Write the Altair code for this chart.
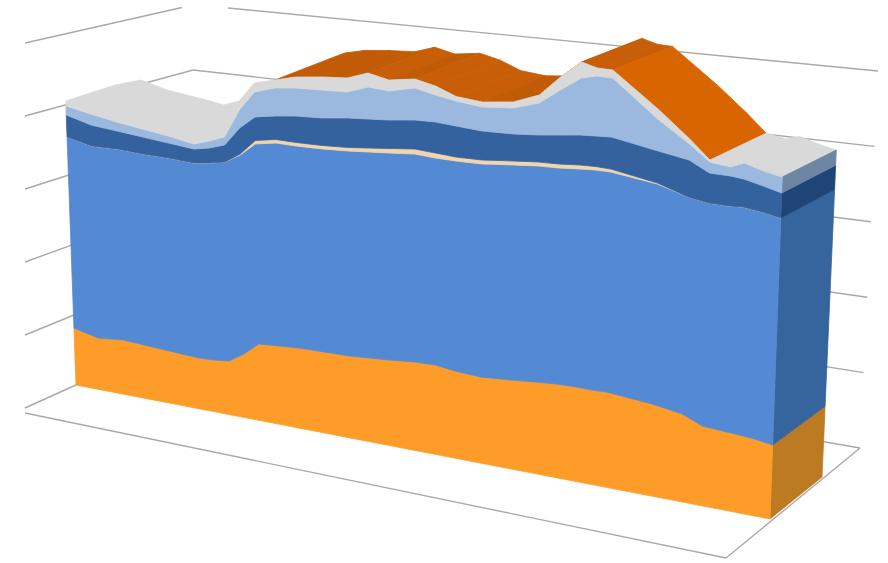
import altair as alt
import pandas as pd

# Time along the front of the block, and the cumulative level of each stacked series.
days = [0, 24, 49, 74, 99, 124, 139, 154, 169, 184, 204, 224, 249, 274, 294, 314, 339,
        359, 379, 404, 434, 459, 479, 499, 514, 529, 574, 604, 624, 644, 657, 676, 694]
orange_top = [57, 51.6, 54.5, 53.3, 52.1, 50.9, 51.8, 53.7, 63.6, 76.5, 78.4, 80.2, 81.1, 81.9, 83.7, 85.6, 88.4,
              89.3, 87.1, 86, 88.8, 91.6, 93.4, 94.3, 94.2, 95, 91.8, 87.6, 79.4, 78.3, 77.8, 76.5, 73.9]
blue_top = [248, 243.6, 245.5, 245.3, 246.1, 245.9, 248.8, 252.7, 262.6, 276.5, 281.4, 282.2, 284.1, 286.9, 289.7,
            292.6, 296.4, 296.3, 297.1, 299, 303.8, 307.6, 309.4, 312.3, 314.2, 315, 311.8, 304.6, 302.4, 303.3,
            304.8, 303.5, 300.9]
peach_band = [0, 0, 0, 0, 0, 0, 0, 0, 1, 3.5, 3.5, 3.5, 3.5, 3.5, 4, 4.5, 5,
              5, 4, 4, 4, 4, 4, 4, 3.5, 3, 1, 0, 0, 0, 0, 0, 0]
steel_top = [270, 264.6, 263.5, 262.3, 261.1, 259.9, 263.8, 269.7, 289.6, 303.5, 308.4, 312.2, 315.1, 319.9, 322.7,
             325.6, 330.4, 332.3, 332.1, 332, 334.8, 338.6, 342.4, 346.3, 348.2, 350, 344.8, 341.6, 332.4, 333.3,
             332.8, 329.5, 325.9]
sky_top = [279, 275.6, 272.5, 270.3, 268.1, 264.9, 270.8, 277.7, 307.6, 328.5, 336.4, 340.2, 343.1, 345.9, 354.7,
           354.6, 362.4, 359.3, 357.1, 356, 360.8, 370.6, 387.4, 403.3, 408.2, 409, 375.8, 357.6, 343.4, 342.3,
           348.8, 344.5, 341.9]
gray_top = [284, 296.6, 309.5, 319.3, 314.1, 312.4, 311.3, 309.7, 316.6, 337.5, 344.4, 351.2, 356.1, 359.9, 368.7,
            365.6, 371.4, 368.3, 361.6, 361, 366.8, 378.6, 400.4, 419.3, 416.2, 417, 385.8, 362.6, 345.4, 343.3,
            348.8, 344.5, 341.9]
wall_levels = [0, 1, 2, 3, 4, 5]

SPAN = days[-1]
peach_top = [b + p for b, p in zip(blue_top, peach_band)]


def project(day, level, depth=0.0):
    """Oblique projection of (time, stacked level, depth) onto the drawing plane."""
    t = day / SPAN
    lean = -0.036 + 0.072 * t
    x = 76 + day + lean * level
    y = 385 + 0.193 * day - level
    x += depth * (74 - 22 * t + 2 * level / 342)
    y += depth * (-42 + 15 * level / 342)
    return x, y


def polygon(rows, pid, colour, corners):
    for seq, (day, level, depth) in enumerate(corners):
        px, py = project(day, level, depth)
        rows.append({"pid": pid, "seq": seq, "colour": colour, "px": px, "py": py})


surface_rows, front_rows, side_rows = [], [], []

# Top faces of the stack, drawn left to right and shaded by slope.
for i in range(len(days) - 1):
    d0, d1 = days[i], days[i + 1]
    g0, g1 = gray_top[i], gray_top[i + 1]
    if i < 10:
        continue
    if i >= 28:
        colour = "#D9D9D9"
    else:
        slope = (g1 - g0) / (d1 - d0)
        colour = "#C25B06" if slope > 0.15 else ("#D86500" if slope < -0.5 else "#C85F08")
    polygon(surface_rows, f"s{i}", colour, [(d0, g0, 0), (d1, g1, 0), (d1, g1, 1), (d0, g0, 1)])

# Front face, one closed band per series.
zero = [0] * len(days)
bands = [
    ("orange", zero, orange_top, "#FE9C29"),
    ("blue", orange_top, blue_top, "#5489D3"),
    ("peach", blue_top, peach_top, "#F1D6AC"),
    ("steel", peach_top, steel_top, "#33629F"),
    ("sky", steel_top, sky_top, "#9BB8DE"),
    ("gray", sky_top, gray_top, "#D9D9D9"),
]
for name, lower, upper, colour in bands:
    corners = [(d, u, 0) for d, u in zip(days, upper)]
    corners += [(d, l, 0) for d, l in reversed(list(zip(days, lower)))]
    polygon(front_rows, name, colour, corners)

# End face of the block at the last date.
side_bands = [
    ("orange", 0, orange_top[-1], "#BC7A22"),
    ("blue", orange_top[-1], blue_top[-1], "#36659E"),
    ("steel", blue_top[-1], steel_top[-1], "#1F4577"),
    ("sky", steel_top[-1], sky_top[-1], "#6B85A3"),
]
for name, lo, hi, colour in side_bands:
    polygon(side_rows, f"e{name}", colour,
            [(SPAN, hi, 0), (SPAN, hi, 1), (SPAN, lo, 1), (SPAN, lo, 0)])

# Walls and floor of the plot box.
grid_rows = []
for k in wall_levels:
    left_y = 408 - 73 * k
    corner_y = 332 - 65.5 * k
    right_y = 448 - 75.4 * k
    right_x = 860 + 3.6 * k
    if k == 5:
        grid_rows.append({"x": 25, "y": left_y, "x2": 182, "y2": corner_y + 3})
        grid_rows.append({"x": 228, "y": corner_y + 3.5, "x2": right_x, "y2": right_y})
    else:
        grid_rows.append({"x": 25, "y": left_y, "x2": 193, "y2": corner_y})
        grid_rows.append({"x": 193, "y": corner_y, "x2": right_x, "y2": right_y})
grid_rows.append({"x": 25, "y": 413, "x2": 726, "y2": 558})
grid_rows.append({"x": 726, "y": 558, "x2": 860, "y2": 448})

x_scale = alt.Scale(domain=[0, 888], range=[0, 888])
y_scale = alt.Scale(domain=[0, 563], range=[0, 563])
X = alt.X("px:Q", scale=x_scale, axis=None)
Y = alt.Y("py:Q", scale=y_scale, axis=None)


def filled(rows):
    return alt.Chart(pd.DataFrame(rows)).mark_line(strokeWidth=0.8, interpolate="linear-closed").encode(
        x=X, y=Y, order="seq:Q", detail="pid:N",
        fill=alt.Fill("colour:N", scale=None),
        stroke=alt.Stroke("colour:N", scale=None),
    )


grid = alt.Chart(pd.DataFrame(grid_rows)).mark_rule(color="#A9A9A9", strokeWidth=1.4).encode(
    x=alt.X("x:Q", scale=x_scale, axis=None), y=alt.Y("y:Q", scale=y_scale, axis=None),
    x2="x2:Q", y2="y2:Q",
)

chart = alt.layer(grid, filled(surface_rows), filled(side_rows), filled(front_rows)).properties(
    width=888, height=563, padding=0, autosize=alt.AutoSizeParams(type="none"),
).configure_view(stroke=None)

chart.save("out.html", embed_options={"renderer": "svg", "actions": False})
